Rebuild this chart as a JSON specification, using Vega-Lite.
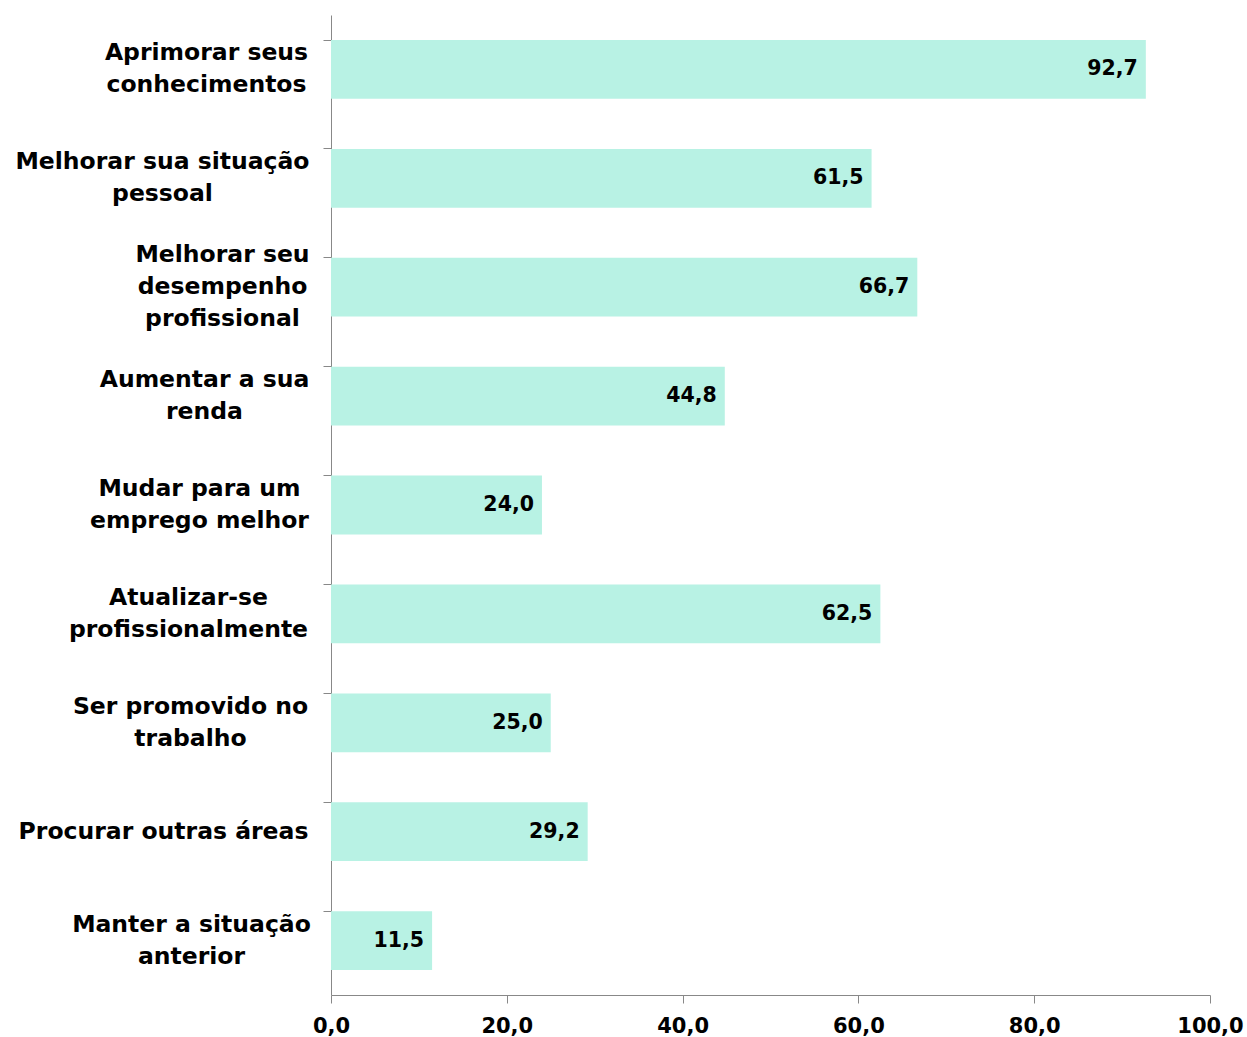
{
  "$schema": "https://vega.github.io/schema/vega-lite/v6.json",
  "width": 879,
  "height": 980,
  "autosize": {"type": "none"},
  "padding": {"left": 331, "top": 15, "right": 37, "bottom": 42},
  "background": "white",
  "config": {
    "locale": {"number": {"decimal": ",", "thousands": ".", "grouping": [3], "currency": ["R$", ""]}},
    "view": {"stroke": null},
    "font": "DejaVu Sans"
  },
  "data": {
    "values": [
      {"motivo": "Aprimorar seus|conhecimentos", "valor": 92.7},
      {"motivo": "Melhorar sua situação|pessoal", "valor": 61.5},
      {"motivo": "Melhorar seu|desempenho|profissional", "valor": 66.7},
      {"motivo": "Aumentar a sua|renda", "valor": 44.8},
      {"motivo": "Mudar para um|emprego melhor", "valor": 24.0},
      {"motivo": "Atualizar-se|profissionalmente", "valor": 62.5},
      {"motivo": "Ser promovido no|trabalho", "valor": 25.0},
      {"motivo": "Procurar outras áreas", "valor": 29.2},
      {"motivo": "Manter a situação|anterior", "valor": 11.5}
    ]
  },
  "encoding": {
    "y": {
      "field": "motivo",
      "type": "nominal",
      "sort": null,
      "scale": {"paddingInner": 0.46, "paddingOuter": 0.23},
      "axis": {
        "title": null,
        "bandPosition": 0,
        "domainColor": "#888888",
        "tickColor": "#888888",
        "tickSize": 8,
        "labelExpr": "split(datum.value, '|')",
        "labelFont": "DejaVu Sans",
        "labelFontWeight": "bold",
        "labelFontSize": 23.5,
        "labelColor": "black",
        "labelLineHeight": 32,
        "labelLimit": 0,
        "labelAlign": "center",
        "labelBaseline": "middle",
        "labelOffset": {
          "condition": [
            {"test": "datum.value === 'Melhorar seu|desempenho|profissional'", "value": -32},
            {"test": "datum.value === 'Procurar outras áreas'", "value": 0}
          ],
          "value": -16
        },
        "labelPadding": {
          "condition": [
            {"test": "datum.value === 'Aprimorar seus|conhecimentos'", "value": 117},
            {"test": "datum.value === 'Melhorar sua situação|pessoal'", "value": 161},
            {"test": "datum.value === 'Melhorar seu|desempenho|profissional'", "value": 101},
            {"test": "datum.value === 'Aumentar a sua|renda'", "value": 119},
            {"test": "datum.value === 'Mudar para um|emprego melhor'", "value": 124},
            {"test": "datum.value === 'Atualizar-se|profissionalmente'", "value": 135},
            {"test": "datum.value === 'Ser promovido no|trabalho'", "value": 133},
            {"test": "datum.value === 'Procurar outras áreas'", "value": 160}
          ],
          "value": 132
        }
      }
    }
  },
  "layer": [
    {
      "mark": {"type": "bar", "fill": "#b8f2e4", "stroke": null},
      "encoding": {
        "x": {
          "field": "valor",
          "type": "quantitative",
          "scale": {"domain": [0, 100], "nice": false},
          "axis": {
            "title": null,
            "values": [0, 20, 40, 60, 80, 100],
            "format": ".1f",
            "grid": false,
            "domainColor": "#888888",
            "tickColor": "#888888",
            "tickSize": 8,
            "labelFont": "DejaVu Sans",
            "labelFontWeight": "bold",
            "labelFontSize": 21,
            "labelColor": "black",
            "labelPadding": 12,
            "labelFlush": false
          }
        }
      }
    },
    {
      "mark": {"type": "text", "align": "right", "baseline": "middle", "dx": -8, "font": "DejaVu Sans", "fontWeight": "bold", "fontSize": 20.5, "color": "black"},
      "encoding": {
        "x": {"field": "valor", "type": "quantitative"},
        "text": {"field": "valor", "type": "quantitative", "format": ".1f"}
      }
    }
  ]
}
